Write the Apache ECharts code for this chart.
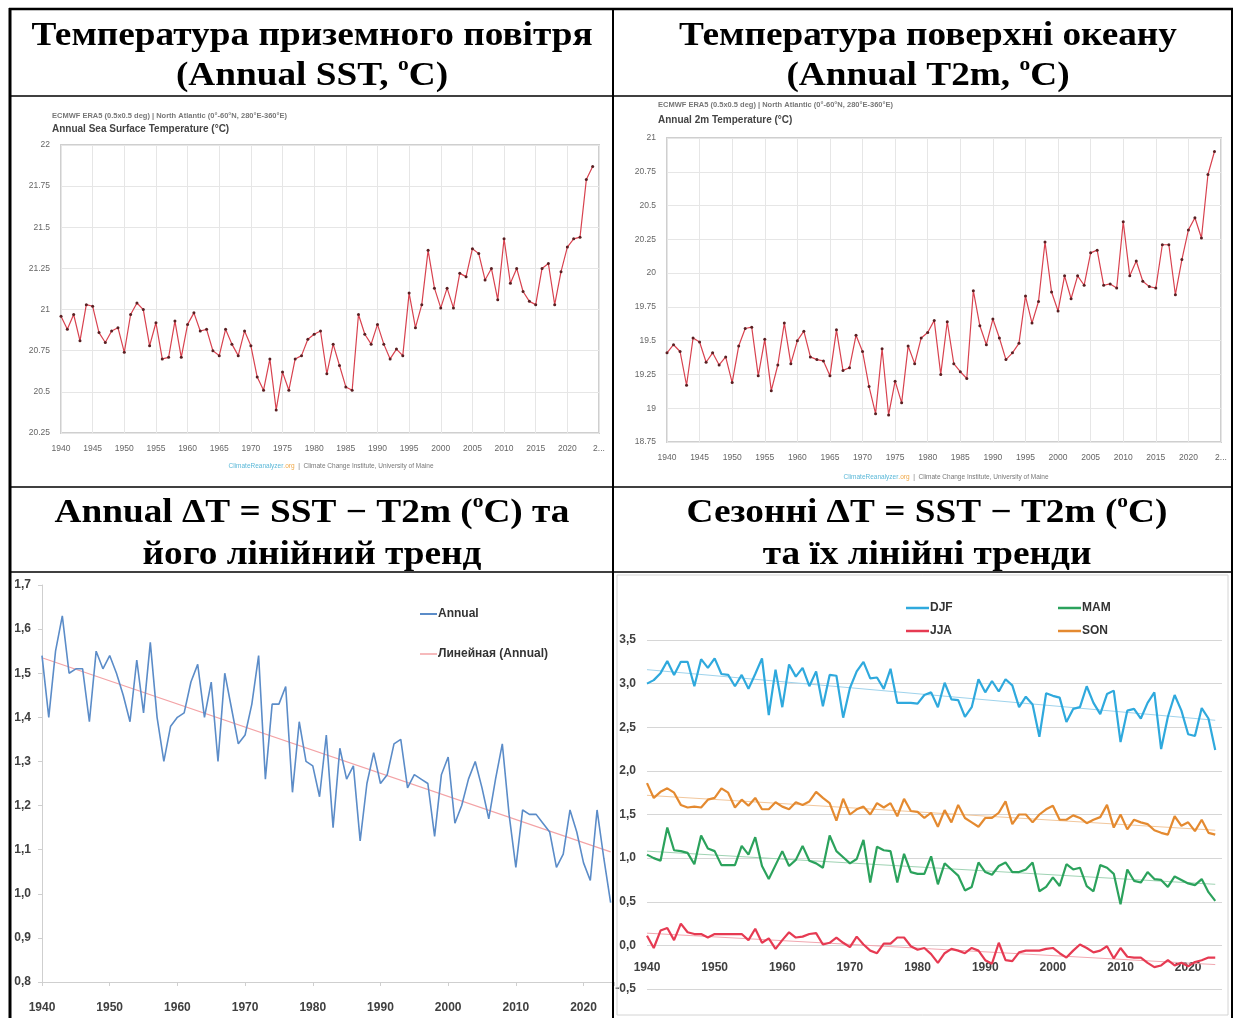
<!DOCTYPE html>
<html><head><meta charset="utf-8">
<script src="https://cdn.jsdelivr.net/npm/echarts@6/dist/echarts.min.js"></script>
<style>html,body{margin:0;padding:0;background:#fff}#c{width:1241px;height:1018px}</style>
</head><body><div id="c"></div><script>
const years = [1940,1941,1942,1943,1944,1945,1946,1947,1948,1949,
1950,1951,1952,1953,1954,1955,1956,1957,1958,1959,
1960,1961,1962,1963,1964,1965,1966,1967,1968,1969,
1970,1971,1972,1973,1974,1975,1976,1977,1978,1979,
1980,1981,1982,1983,1984,1985,1986,1987,1988,1989,
1990,1991,1992,1993,1994,1995,1996,1997,1998,1999,
2000,2001,2002,2003,2004,2005,2006,2007,2008,2009,
2010,2011,2012,2013,2014,2015,2016,2017,2018,2019,
2020,2021,2022,2023,2024];
const sst = [20.96,20.88,20.97,20.81,21.03,21.02,20.86,20.80,20.87,20.89,
20.74,20.97,21.04,21.00,20.78,20.92,20.70,20.71,20.93,20.71,
20.91,20.98,20.87,20.88,20.75,20.72,20.88,20.79,20.72,20.87,
20.78,20.59,20.51,20.70,20.39,20.62,20.51,20.70,20.72,20.82,
20.85,20.87,20.61,20.79,20.66,20.53,20.51,20.97,20.85,20.79,
20.91,20.79,20.70,20.76,20.72,21.10,20.89,21.03,21.36,21.13,
21.01,21.13,21.01,21.22,21.20,21.37,21.34,21.18,21.25,21.06,
21.43,21.16,21.25,21.11,21.05,21.03,21.25,21.28,21.03,21.23,
21.38,21.43,21.44,21.79,21.87];
const t2m = [19.41,19.47,19.42,19.17,19.52,19.49,19.34,19.41,19.32,19.38,
19.19,19.46,19.59,19.60,19.24,19.51,19.13,19.32,19.63,19.33,
19.50,19.57,19.38,19.36,19.35,19.24,19.58,19.28,19.30,19.54,
19.42,19.16,18.96,19.44,18.95,19.20,19.04,19.46,19.33,19.52,
19.56,19.65,19.25,19.64,19.33,19.27,19.22,19.87,19.61,19.47,
19.66,19.52,19.36,19.41,19.48,19.83,19.63,19.79,20.23,19.86,
19.72,19.98,19.81,19.98,19.91,20.15,20.17,19.91,19.92,19.89,
20.38,19.98,20.09,19.94,19.90,19.89,20.21,20.21,19.84,20.10,
20.32,20.41,20.26,20.73,20.90];
const dtAnnual = [1.54,1.40,1.55,1.63,1.50,1.51,1.51,1.39,1.55,1.51,
1.54,1.50,1.45,1.39,1.53,1.41,1.57,1.40,1.30,1.38,
1.40,1.41,1.48,1.52,1.40,1.48,1.30,1.50,1.42,1.34,
1.36,1.43,1.54,1.26,1.43,1.43,1.47,1.23,1.39,1.30,
1.29,1.22,1.36,1.15,1.33,1.26,1.29,1.12,1.25,1.32,
1.25,1.27,1.34,1.35,1.24,1.27,1.26,1.25,1.13,1.27,
1.31,1.16,1.20,1.26,1.30,1.24,1.17,1.26,1.34,1.18,
1.06,1.19,1.18,1.18,1.16,1.14,1.06,1.09,1.19,1.14,
1.07,1.03,1.19,1.08,0.98];
const trendYears = [1940, 2024];
const trendAnnual = [1.535, 1.095];
const djf = [3.00,3.04,3.12,3.26,3.10,3.25,3.25,2.97,3.28,3.18,
3.29,3.11,3.10,2.97,3.10,2.94,3.11,3.29,2.64,3.16,
2.73,3.22,3.08,3.18,2.97,3.14,2.74,3.10,3.09,2.61,
2.95,3.14,3.25,3.06,3.07,2.94,3.17,2.78,2.78,2.78,
2.77,2.87,2.90,2.73,3.01,2.82,2.81,2.62,2.73,3.05,
2.90,3.03,2.91,3.05,2.98,2.73,2.85,2.76,2.39,2.89,
2.86,2.84,2.56,2.71,2.73,2.97,2.78,2.65,2.88,2.92,
2.33,2.69,2.71,2.60,2.78,2.90,2.25,2.62,2.87,2.69,
2.42,2.40,2.72,2.60,2.24];
const mam = [1.04,1.00,0.97,1.35,1.09,1.08,1.06,0.93,1.26,1.11,
1.08,0.92,0.92,0.92,1.14,1.04,1.24,0.91,0.76,0.92,
1.08,0.91,0.98,1.14,0.97,0.94,0.89,1.26,1.08,1.01,
0.94,0.99,1.21,0.72,1.13,1.09,1.08,0.72,1.05,0.84,
0.82,0.82,1.02,0.70,0.94,0.87,0.80,0.63,0.67,0.95,
0.84,0.81,0.91,0.95,0.84,0.84,0.87,0.95,0.62,0.67,
0.78,0.68,0.93,0.87,0.89,0.68,0.62,0.92,0.89,0.82,
0.47,0.87,0.74,0.72,0.84,0.76,0.75,0.67,0.79,0.75,
0.71,0.69,0.76,0.61,0.51];
const jja = [0.11,-0.03,0.17,0.20,0.06,0.25,0.15,0.13,0.13,0.09,
0.13,0.13,0.13,0.13,0.13,0.06,0.19,0.03,0.08,-0.04,
0.06,0.15,0.09,0.10,0.13,0.14,0.01,0.03,0.09,0.03,
-0.02,0.10,0.01,-0.06,-0.09,0.02,0.02,0.09,0.09,-0.01,
-0.05,-0.03,-0.10,-0.20,-0.09,-0.04,-0.06,-0.09,-0.03,-0.06,
-0.17,-0.21,0.03,-0.17,-0.18,-0.08,-0.06,-0.06,-0.06,-0.04,
-0.03,-0.09,-0.14,-0.06,0.01,-0.03,-0.08,-0.06,-0.01,-0.15,
-0.03,-0.13,-0.14,-0.14,-0.20,-0.25,-0.23,-0.17,-0.23,-0.20,
-0.24,-0.19,-0.17,-0.14,-0.14];
const son = [1.86,1.69,1.76,1.80,1.75,1.61,1.58,1.59,1.58,1.67,
1.69,1.80,1.75,1.58,1.67,1.60,1.69,1.56,1.56,1.64,
1.59,1.56,1.64,1.61,1.65,1.76,1.69,1.63,1.43,1.68,
1.50,1.56,1.59,1.50,1.63,1.58,1.63,1.48,1.68,1.54,
1.53,1.46,1.52,1.36,1.55,1.41,1.61,1.46,1.41,1.36,
1.46,1.46,1.52,1.65,1.39,1.50,1.50,1.41,1.50,1.56,
1.60,1.44,1.44,1.49,1.46,1.40,1.44,1.47,1.61,1.35,
1.50,1.33,1.44,1.41,1.39,1.32,1.29,1.27,1.48,1.37,
1.41,1.31,1.44,1.29,1.27];
const trendDJF = [3.16, 2.58];
const trendMAM = [1.08, 0.70];
const trendJJA = [0.14, -0.22];
const trendSON = [1.72, 1.32];

const pairs = (xs, ys) => xs.map((x, i) => [x, ys[i]]);
const comma = v => v.toFixed(1).replace('.', ',');
const XL_FONT = "'Liberation Sans',Arial,sans-serif";
const SERIF = "'Liberation Serif','Times New Roman',serif";

function crAxes(gi, ymin, ymax) {
  return {
    x: {type:'value', gridIndex:gi, min:1940, max:2025, interval:5,
      axisLine:{show:false}, axisTick:{show:false},
      splitLine:{show:true, lineStyle:{color:'#e6e6e6', width:1}},
      axisLabel:{color:'#666', fontSize:8.5, margin:11, fontFamily:'Liberation Sans',
        formatter: v => v === 2025 ? '2...' : String(v)}},
    y: {type:'value', gridIndex:gi, min:ymin, max:ymax, interval:0.25,
      axisLine:{show:false}, axisTick:{show:false},
      splitLine:{show:true, lineStyle:{color:'#e6e6e6', width:1}},
      axisLabel:{color:'#666', fontSize:8.5, margin:11, fontFamily:'Liberation Sans'}}
  };
}
const axA = crAxes(0, 20.25, 22), axB = crAxes(1, 18.75, 21);

const crSeries = (name, gi, vals) => ({
  name, type:'line', xAxisIndex:gi, yAxisIndex:gi, data:pairs(years, vals),
  symbol:'circle', symbolSize:3, showSymbol:true,
  itemStyle:{color:'#5a1f22'}, lineStyle:{color:'#d8424f', width:1.2}, z:3
});
const xlLine = (name, gi, xs, vals, color, width, z) => ({
  name, type:'line', xAxisIndex:gi, yAxisIndex:gi, data:pairs(xs, vals),
  symbol:'none', lineStyle:{color, width}, itemStyle:{color}, z
});

const G = [];
const txt = (x, y, text, font, fill, align) => G.push({type:'text', x, y, z:50,
  style:{text, font, fill, textAlign:align||'left', textVerticalAlign:'middle'}});
const hline = (x1, x2, y, w) => G.push({type:'line', z:100, shape:{x1, y1:y, x2, y2:y}, style:{stroke:'#000', lineWidth:w}});
const vline = (x, y1, y2, w) => G.push({type:'line', z:100, shape:{x1:x, y1, x2:x, y2}, style:{stroke:'#000', lineWidth:w}});

// Bottom-right Excel chart frame
G.push({type:'rect', z:1, shape:{x:617, y:575, width:611, height:440}, style:{fill:'none', stroke:'#d4d4d4', lineWidth:1}});

// table
hline(9, 1233, 9, 2.5);
hline(9, 1233, 96, 1.5);
hline(9, 1233, 487, 1.5);
hline(9, 1233, 572, 1.5);
vline(10, 8, 1018, 3);
vline(1232, 8, 1018, 2);
vline(613, 8, 1018, 2);

// header cells
const rich = {
  b:{font:"bold 33px " + SERIF, fill:'#000', lineHeight:40},
  s:{font:"bold 19px " + SERIF, fill:'#000', lineHeight:20, verticalAlign:'top'}
};
const head = (x, y, text) => G.push({type:'text', x, y, z:60, scaleX:1.13,
  style:{text, rich, textAlign:'center', textVerticalAlign:'middle'}});
head(312, 36, '{b|Температура приземного повітря}');
head(312, 76, '{b|(Annual SST, }{s|o}{b|C)}');
head(928, 36, '{b|Температура поверхні океану}');
head(928, 76, '{b|(Annual T2m, }{s|o}{b|C)}');
head(312, 513, '{b|Annual ΔT = SST − T2m (}{s|o}{b|C) та}');
head(312, 555, '{b|його лінійний тренд}');
head(927, 513, '{b|Сезонні ΔT = SST − T2m (}{s|o}{b|C)}');
head(927, 555, '{b|та їх лінійні тренди}');

// top chart captions
txt(52, 116, 'ECMWF ERA5 (0.5x0.5 deg) | North Atlantic (0°-60°N, 280°E-360°E)', "bold 7.5px 'Liberation Sans'", '#777');
txt(52, 129, 'Annual Sea Surface Temperature (°C)', "bold 10px 'Liberation Sans'", '#444');
txt(658, 105, 'ECMWF ERA5 (0.5x0.5 deg) | North Atlantic (0°-60°N, 280°E-360°E)', "bold 7.5px 'Liberation Sans'", '#777');
txt(658, 120, 'Annual 2m Temperature (°C)', "bold 10px 'Liberation Sans'", '#444');
const footRich = {
  a:{font:"6.5px 'Liberation Sans'", fill:'#5bb8d8'},
  o:{font:"6.5px 'Liberation Sans'", fill:'#f0a848'},
  c:{font:"6.5px 'Liberation Sans'", fill:'#777'}
};
G.push({type:'text', x:331, y:466, z:50, style:{text:'{a|ClimateReanalyzer}{o|.org}{c|  |  Climate Change Institute, University of Maine}', rich:footRich, textAlign:'center', textVerticalAlign:'middle'}});
G.push({type:'text', x:946, y:477, z:50, style:{text:'{a|ClimateReanalyzer}{o|.org}{c|  |  Climate Change Institute, University of Maine}', rich:footRich, textAlign:'center', textVerticalAlign:'middle'}});

const xlLabel = {color:'#404040', fontSize:12, fontWeight:'bold', fontFamily:XL_FONT};
const legendItem = (name, left, top, w, h) => ({
  data:[name], left, top, padding:0, icon:'rect', itemWidth:w, itemHeight:h, itemGap:0, selectedMode:false,
  textStyle:{color:'#333', fontSize:12, fontWeight:'bold', fontFamily:XL_FONT, padding:[0,0,0,-4]}
});

const option = {
  animation:false,
  backgroundColor:'#fff',
  graphic: G,
  grid:[
    {left:61, top:145, width:538, height:288, show:true, borderColor:'#cfcfcf', borderWidth:2, backgroundColor:'#fff'},
    {left:667, top:138, width:554, height:304, show:true, borderColor:'#cfcfcf', borderWidth:2, backgroundColor:'#fff'},
    {left:42, top:585, width:572, height:397},
    {left:647, top:640, width:575, height:349}
  ],
  xAxis:[axA.x, axB.x,
    {type:'value', gridIndex:2, min:1940, max:2024.5, interval:10,
      axisLine:{show:true, onZero:false, lineStyle:{color:'#cfcfcf'}},
      axisTick:{show:true, length:4, lineStyle:{color:'#cfcfcf'}},
      splitLine:{show:false},
      axisLabel:Object.assign({margin:20, formatter: v => v % 10 === 0 ? String(v) : ''}, xlLabel)},
    {type:'value', gridIndex:3, min:1940, max:2025, interval:10,
      axisLine:{show:false, onZero:false},
      axisTick:{show:false},
      splitLine:{show:false},
      axisLabel:Object.assign({margin:-27, formatter: v => (v % 10 === 0 && v <= 2020) ? String(v) : ''}, xlLabel)}
  ],
  yAxis:[axA.y, axB.y,
    {type:'value', gridIndex:2, min:0.8, max:1.7, interval:0.1,
      axisLine:{show:true, lineStyle:{color:'#cfcfcf'}},
      axisTick:{show:true, length:4, lineStyle:{color:'#cfcfcf'}},
      splitLine:{show:false},
      axisLabel:Object.assign({margin:11, formatter: comma}, xlLabel)},
    {type:'value', gridIndex:3, min:-0.5, max:3.5, interval:0.5,
      axisLine:{show:false}, axisTick:{show:false},
      splitLine:{show:true, lineStyle:{color:'#d6d6d6', width:1.2}},
      axisLabel:Object.assign({margin:11, formatter: comma}, xlLabel)}
  ],
  legend:[
    legendItem('Annual', 420, 608, 17, 2),
    legendItem('Линейная (Annual)', 420, 648, 17, 1.5),
    legendItem('DJF', 906, 602, 23, 2.5),
    legendItem('MAM', 1058, 602, 23, 2.5),
    legendItem('JJA', 906, 625, 23, 2.5),
    legendItem('SON', 1058, 625, 23, 2.5)
  ],
  series:[
    crSeries('SST', 0, sst),
    crSeries('T2m', 1, t2m),
    xlLine('Линейная (Annual)', 2, trendYears, trendAnnual, '#f3a3a6', 1.2, 2),
    xlLine('Annual', 2, years, dtAnnual, '#5b8cc8', 1.6, 3),
    xlLine('DJF тренд', 3, trendYears, trendDJF, '#9fd3ec', 1, 2),
    xlLine('MAM тренд', 3, trendYears, trendMAM, '#9fd3b3', 1, 2),
    xlLine('JJA тренд', 3, trendYears, trendJJA, '#f2a7b0', 1, 2),
    xlLine('SON тренд', 3, trendYears, trendSON, '#f2c79c', 1, 2),
    xlLine('DJF', 3, years, djf, '#2fa9dd', 2.2, 3),
    xlLine('MAM', 3, years, mam, '#2ba25c', 2.2, 3),
    xlLine('JJA', 3, years, jja, '#e63a52', 2.2, 3),
    xlLine('SON', 3, years, son, '#e48a30', 2.2, 3)
  ]
};
const chart = echarts.init(document.getElementById('c'), null, {renderer:'canvas'});
chart.setOption(option);
</script></body></html>
